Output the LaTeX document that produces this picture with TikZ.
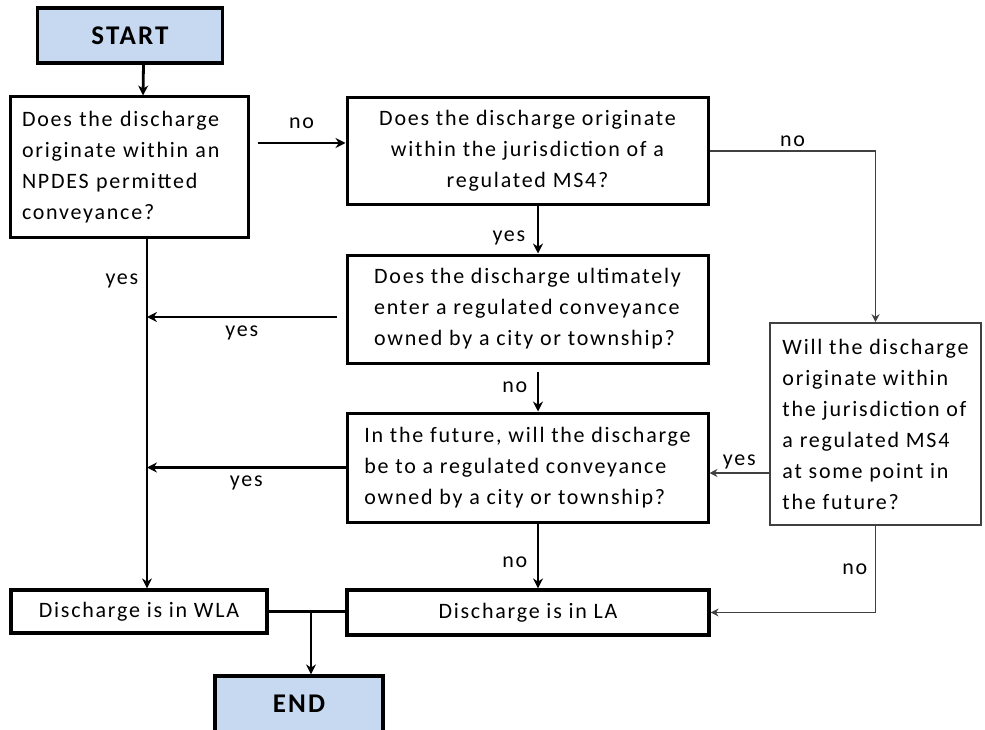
\documentclass[tikz,border=0pt]{standalone}
\usepackage{fontspec}
\setmainfont{Carlito}[LetterSpace=8]
\usetikzlibrary{arrows.meta,positioning}
\definecolor{termblue}{RGB}{198,217,241}

\begin{document}
\begin{tikzpicture}[x=1pt, y=-1pt, >={Stealth[length=10pt,width=10pt]},
  every node/.style={font=\fontsize{22}{31}\selectfont},
  term/.style={draw, fill=termblue, line width=3.2pt, minimum width=185pt, minimum height=55pt,
    font=\bfseries\fontsize{27}{30}\selectfont},
  ques/.style={draw, line width=3pt, align=left, inner sep=3pt},
  result/.style={draw, line width=3.2pt, inner sep=3pt},
  flow/.style={->, line width=2.8pt},
  side/.style={-{Stealth[length=8pt,width=8pt]}, line width=1.6pt, draw=black!75}]
  \useasboundingbox (0,0) rectangle (985,730);
	\node[term] (start) at (130,35.5) {START};
	\node[ques, text width=214pt, inner xsep=12pt, minimum height=140pt] (q1) at (129,167)
	  {Does the discharge\\ originate within an\\ NPDES permitted\\ conveyance?};
	\node[ques, align=center, minimum width=361pt, minimum height=107pt] (q2) at (527.5,151)
	  {Does the discharge originate\\ within the jurisdiction of a\\ regulated MS4?};
	\node[ques, minimum width=361pt, minimum height=108pt] (q3) at (527.5,309)
	  {Does the discharge ultimately\\ enter a regulated conveyance\\ owned by a city or township?};
	\node[ques, minimum width=361pt, minimum height=109pt] (q4) at (527.5,467.5)
	  {In the future, will the discharge\\ be to a regulated conveyance\\ owned by a city or township?};
	\node[ques, draw=black!75, line width=1.6pt, minimum width=211pt, minimum height=202pt] (q5) at (875.5,424)
	  {Will the discharge\\ originate within\\ the jurisdiction of\\ a regulated MS4\\ at some point in\\ the future?};
	\node[result, minimum width=256pt, minimum height=43pt] (wla) at (139,611.5) {Discharge is in WLA};
	\node[result, minimum width=362pt, minimum height=45pt] (la) at (528,612.5) {Discharge is in LA};
	\node[term, minimum width=168pt, minimum height=56pt] (end) at (299,704) {END};
	\coordinate (trunk) at ([xshift=18pt]q1.south);

	\draw[flow] ([xshift=13.5pt]start.south) -- ([xshift=14pt]q1.north);
	\draw[flow] ([xshift=8pt,yshift=24pt]q1.east) -- node[above=10pt] {no} ([yshift=8pt]q2.west);
	\draw[side] (q2.east) -- node[above] {no} (q2.east -| q5.north) -- (q5.north);
	\draw[flow] ([xshift=10.5pt]q2.south) -- node[left=8pt, pos=0.68] {yes} ([xshift=10.5pt]q3.north);
	\draw[flow] (trunk) -- node[left=4pt, pos=0.12] {yes} ([xshift=8pt]wla.north);
	\draw[flow] ([xshift=-9pt,yshift=-8pt]q3.west) -- node[below=4pt] {yes} ([yshift=-8pt]q3.west -| trunk);
	\draw[flow] ([xshift=10.5pt,yshift=-7pt]q3.south) -- node[left=6pt, pos=0.4] {no} ([xshift=10.5pt]q4.north);
	\draw[flow] (q4.west) -- node[below=4pt] {yes} (q4.west -| trunk);
	\draw[side] ([yshift=-49pt]q5.west) -- node[above] {yes} ([yshift=-49pt]q5.west -| q4.east);
	\draw[flow] ([xshift=10.5pt]q4.south) -- node[left=6pt, pos=0.6] {no} ([xshift=10pt]la.north);
	\draw[side] (q5.south) -- node[left=4pt] {no} (q5.south |- la.east) -- (la.east);
	\draw[line width=2.8pt] (wla.east) -- (wla.east -| la.west);
	\draw[flow] ([xshift=12pt]end.north |- wla.east) -- ([xshift=12pt]end.north);
\end{tikzpicture}
\end{document}
